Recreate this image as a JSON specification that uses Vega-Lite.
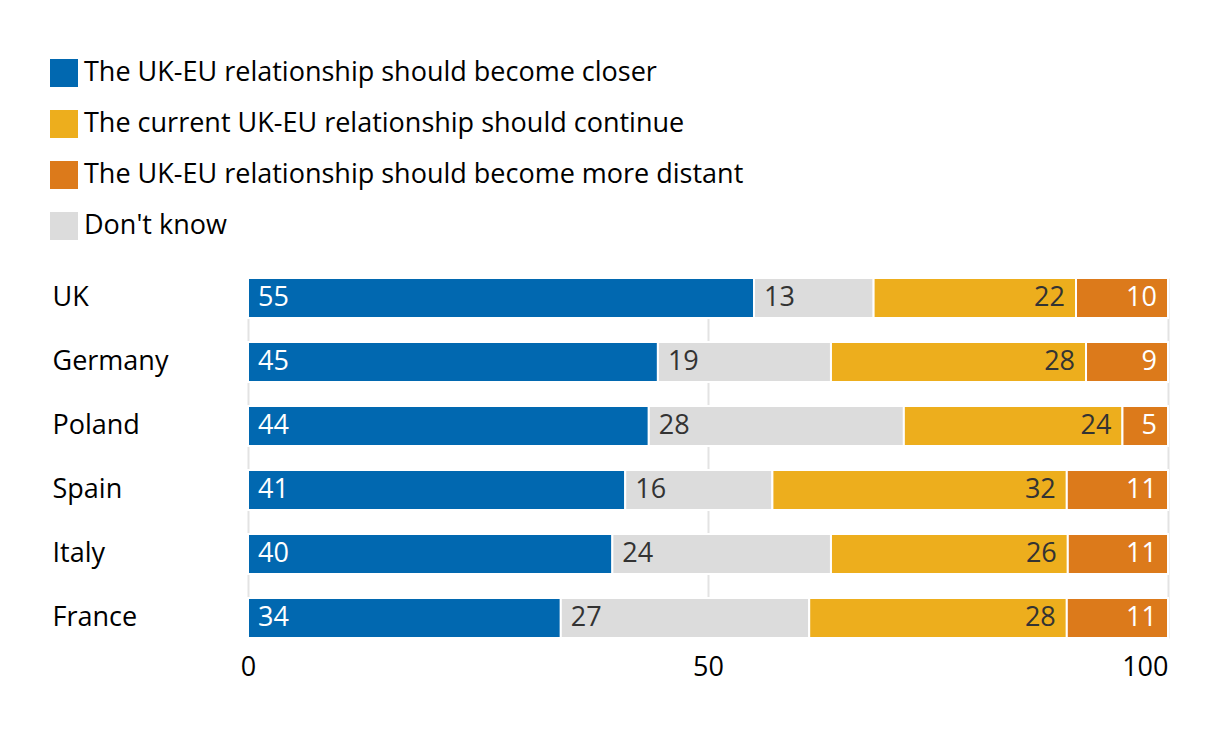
{
  "$schema": "https://vega.github.io/schema/vega-lite/v6.json",
  "autosize": {"type": "none"},
  "width": 920,
  "height": 360,
  "padding": {"left": 248, "top": 278, "right": 52, "bottom": 98},
  "background": "white",
  "config": {"view": {"stroke": null}, "font": "Open Sans", "text": {"font": "Open Sans"}},
  "data": {
    "values": [
      {"country": "UK", "response": "The UK-EU relationship should become closer", "ord": 1, "value": 55},
      {"country": "UK", "response": "Don't know", "ord": 2, "value": 13},
      {"country": "UK", "response": "The current UK-EU relationship should continue", "ord": 3, "value": 22},
      {"country": "UK", "response": "The UK-EU relationship should become more distant", "ord": 4, "value": 10},
      {"country": "Germany", "response": "The UK-EU relationship should become closer", "ord": 1, "value": 45},
      {"country": "Germany", "response": "Don't know", "ord": 2, "value": 19},
      {"country": "Germany", "response": "The current UK-EU relationship should continue", "ord": 3, "value": 28},
      {"country": "Germany", "response": "The UK-EU relationship should become more distant", "ord": 4, "value": 9},
      {"country": "Poland", "response": "The UK-EU relationship should become closer", "ord": 1, "value": 44},
      {"country": "Poland", "response": "Don't know", "ord": 2, "value": 28},
      {"country": "Poland", "response": "The current UK-EU relationship should continue", "ord": 3, "value": 24},
      {"country": "Poland", "response": "The UK-EU relationship should become more distant", "ord": 4, "value": 5},
      {"country": "Spain", "response": "The UK-EU relationship should become closer", "ord": 1, "value": 41},
      {"country": "Spain", "response": "Don't know", "ord": 2, "value": 16},
      {"country": "Spain", "response": "The current UK-EU relationship should continue", "ord": 3, "value": 32},
      {"country": "Spain", "response": "The UK-EU relationship should become more distant", "ord": 4, "value": 11},
      {"country": "Italy", "response": "The UK-EU relationship should become closer", "ord": 1, "value": 40},
      {"country": "Italy", "response": "Don't know", "ord": 2, "value": 24},
      {"country": "Italy", "response": "The current UK-EU relationship should continue", "ord": 3, "value": 26},
      {"country": "Italy", "response": "The UK-EU relationship should become more distant", "ord": 4, "value": 11},
      {"country": "France", "response": "The UK-EU relationship should become closer", "ord": 1, "value": 34},
      {"country": "France", "response": "Don't know", "ord": 2, "value": 27},
      {"country": "France", "response": "The current UK-EU relationship should continue", "ord": 3, "value": 28},
      {"country": "France", "response": "The UK-EU relationship should become more distant", "ord": 4, "value": 11}
    ]
  },
  "transform": [
    {"stack": "value", "groupby": ["country"], "sort": [{"field": "ord", "order": "ascending"}], "offset": "normalize", "as": ["x0", "x1"]}
  ],
  "encoding": {
    "y": {
      "field": "country",
      "type": "nominal",
      "sort": ["UK", "Germany", "Poland", "Spain", "Italy", "France"],
      "scale": {"paddingInner": 0.375, "paddingOuter": 0},
      "axis": {
        "title": null,
        "domain": false,
        "ticks": false,
        "tickSize": 0,
        "labelAlign": "left",
        "labelPadding": 196,
        "labelFontSize": 27,
        "labelColor": "#000000",
        "labelFont": "Open Sans",
        "labelLimit": 0
      }
    }
  },
  "layer": [
    {
      "mark": {"type": "bar", "stroke": "white", "strokeWidth": 2},
      "encoding": {
        "x": {
          "field": "x0",
          "type": "quantitative",
          "scale": {"domain": [0, 1], "nice": false},
          "axis": {
            "title": null,
            "values": [0, 0.5, 1],
            "labelExpr": "format(datum.value * 100, 'd')",
            "domain": false,
            "ticks": false,
            "tickSize": 0,
            "grid": true,
            "gridColor": "#e3e3e3",
            "gridWidth": 2,
            "labelFontSize": 27,
            "labelFont": "Open Sans",
            "labelColor": "#000000",
            "labelPadding": 16,
            "labelAlign": {"condition": {"test": "datum.value >= 1", "value": "right"}, "value": "center"}
          }
        },
        "x2": {"field": "x1"},
        "color": {
          "field": "response",
          "type": "nominal",
          "scale": {
            "domain": [
              "The UK-EU relationship should become closer",
              "The current UK-EU relationship should continue",
              "The UK-EU relationship should become more distant",
              "Don't know"
            ],
            "range": ["#0168b0", "#edae1d", "#dc7a1b", "#dcdcdc"]
          },
          "legend": {
            "orient": "none",
            "legendX": -198,
            "legendY": -219,
            "title": null,
            "symbolType": "square",
            "symbolSize": 784,
            "symbolStrokeWidth": 0,
            "symbolOpacity": 1,
            "labelFontSize": 27,
            "labelFont": "Open Sans",
            "labelOffset": 6,
            "rowPadding": 23,
            "labelColor": "#000000",
            "labelLimit": 0
          }
        }
      }
    },
    {
      "transform": [{"filter": "datum.ord <= 2"}],
      "mark": {"type": "text", "align": "left", "baseline": "middle", "dx": 10, "fontSize": 27, "font": "Open Sans"},
      "encoding": {
        "x": {"field": "x0", "type": "quantitative"},
        "text": {"field": "value", "type": "quantitative"},
        "color": {"condition": {"test": "datum.ord == 1", "value": "white"}, "value": "#333333"}
      }
    },
    {
      "transform": [{"filter": "datum.ord >= 3"}],
      "mark": {"type": "text", "align": "right", "baseline": "middle", "dx": -11, "fontSize": 27, "font": "Open Sans"},
      "encoding": {
        "x": {"field": "x1", "type": "quantitative"},
        "text": {"field": "value", "type": "quantitative"},
        "color": {"condition": {"test": "datum.ord == 4", "value": "white"}, "value": "#333333"}
      }
    }
  ]
}
